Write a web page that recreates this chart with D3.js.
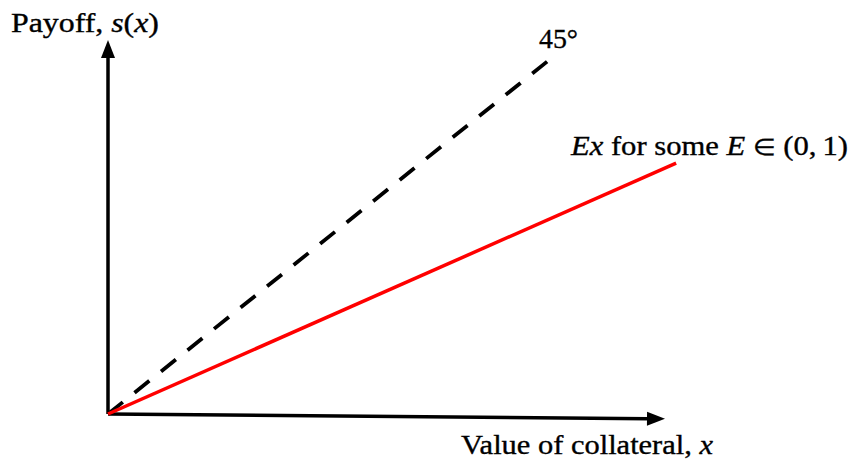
<!DOCTYPE html>
<html>
<head>
<meta charset="utf-8">
<script src="https://cdn.jsdelivr.net/npm/d3@7"></script>
<style>
  html, body { margin: 0; padding: 0; background: #fff; }
  svg { display: block; }
  text { font-family: "Liberation Serif", "Times New Roman", serif; fill: #000; stroke: #000; stroke-width: 0.35; }
</style>
</head>
<body>
<svg id="chart" width="854" height="464"></svg>
<script>
// ---- data (in abstract chart units) ----
const origin = [0, 0];
const xAxisEnd = [10, -0.13];
const yAxisEnd = [0, 10];
const line45 = [[0, 0], [7.99, 9.55]];
const lineE = [[0, 0], [10.2, 6.71]];
const yLabel = [{t: "Payoff, ", i: false}, {t: "s", i: true}, {t: "(", i: false}, {t: "x", i: true}, {t: ")", i: false}];
const xLabel = [{t: "Value of collateral, ", i: false}, {t: "x", i: true}];
const label45 = [{t: "45°", i: false}];
const labelE = [{t: "Ex", i: true}, {t: " for some ", i: false}, {t: "E", i: true}, {t: " ", i: false}, {t: "∈", i: false, s: 23}, {t: " (0,\u20091)", i: false}];

const svg = d3.select("#chart");
const x = d3.scaleLinear().domain([0, 10]).range([108, 665]);
const y = d3.scaleLinear().domain([0, 10]).range([414, 40]);
const px = d => [x(d[0]), y(d[1])];

function arrowAxis(p0, p1) {
  const a = px(p0), b = px(p1);
  const dx = b[0] - a[0], dy = b[1] - a[1];
  const L = Math.hypot(dx, dy), ux = dx / L, uy = dy / L;
  const hl = 18, hw = 7;
  const base = [b[0] - ux * hl, b[1] - uy * hl];
  svg.append("line")
    .attr("x1", a[0]).attr("y1", a[1]).attr("x2", base[0] + ux * 1).attr("y2", base[1] + uy * 1)
    .attr("stroke", "#000").attr("stroke-width", 3.5);
  svg.append("path")
    .attr("d", `M${b[0]},${b[1]} L${base[0] - uy * hw},${base[1] + ux * hw} L${base[0] + uy * hw},${base[1] - ux * hw} Z`)
    .attr("fill", "#000");
}
arrowAxis(origin, xAxisEnd);
arrowAxis(origin, yAxisEnd);

const lineGen = d3.line().x(d => x(d[0])).y(d => y(d[1]));
svg.append("path").attr("d", lineGen(line45))
  .attr("fill", "none").attr("stroke", "#000").attr("stroke-width", 3.8)
  .attr("stroke-dasharray", "19,15");
svg.append("path").attr("d", lineGen(lineE))
  .attr("fill", "none").attr("stroke", "#ff0000").attr("stroke-width", 3.5);

function label(parts, lx, ly, len) {
  const t = svg.append("text").attr("x", lx).attr("y", ly).attr("font-size", 27);
  parts.forEach(p => {
    const ts = t.append("tspan").text(p.t).attr("font-style", p.i ? "italic" : "normal");
    if (p.s) ts.attr("font-size", p.s);
  });
  if (len) t.attr("textLength", len).attr("lengthAdjust", "spacingAndGlyphs");
}
label(yLabel, 11, 32, 148);
label(xLabel, 461, 454, 252);
label(label45, 539, 48, 39);
label(labelE, 571, 155, 277);
</script>
</body>
</html>
